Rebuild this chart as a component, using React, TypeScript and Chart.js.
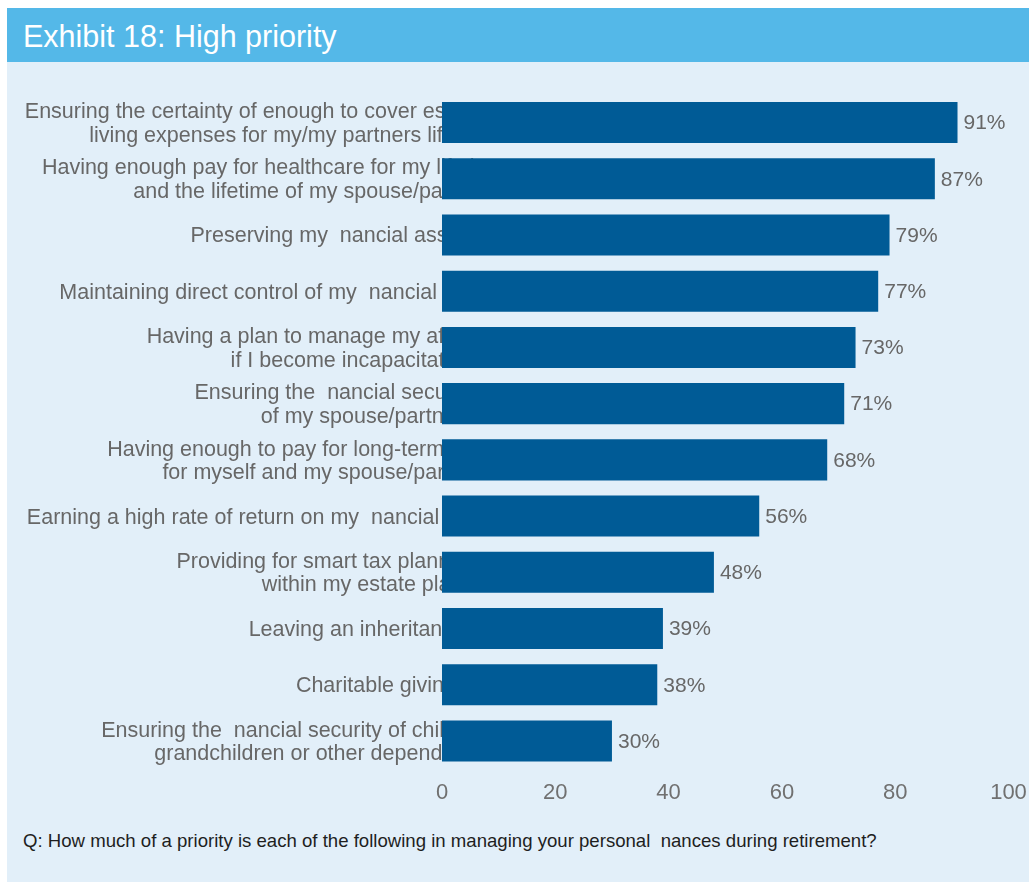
import React, { useEffect, useRef } from "react";
import { Chart, registerables } from "chart.js";

Chart.register(...registerables);

const FONT = "'Liberation Sans', Arial, Helvetica, sans-serif";

const titleText = "Exhibit 18: High priority";
const footerText =
  "Q: How much of a priority is each of the following in managing your personal  nances during retirement?";

const categories: string[][] = [
  ["Ensuring the certainty of enough to cover essential", "living expenses for my/my partners lifetime"],
  ["Having enough pay for healthcare for my lifetime", "and the lifetime of my spouse/partner"],
  ["Preserving my  nancial assets"],
  ["Maintaining direct control of my  nancial affairs"],
  ["Having a plan to manage my affairs", "if I become incapacitated"],
  ["Ensuring the  nancial security", "of my spouse/partner"],
  ["Having enough to pay for long-term care", "for myself and my spouse/partner"],
  ["Earning a high rate of return on my  nancial assets"],
  ["Providing for smart tax planning", "within my estate plan"],
  ["Leaving an inheritance"],
  ["Charitable giving"],
  ["Ensuring the  nancial security of children,", "grandchildren or other dependents"],
];

const values: number[] = [91, 87, 79, 77, 73, 71, 68, 56, 48, 39, 38, 30];

const xMin = 0;
const xMax = 100;
const xStep = 20;

export default function App() {
  const ref = useRef<HTMLCanvasElement | null>(null);

  useEffect(() => {
    if (!ref.current) return;

    const labelPlugin = {
      id: "catLabels",
      beforeDatasetsDraw(chart: any) {
        const { ctx, chartArea, scales } = chart;
        const yScale = scales.y;
        ctx.save();
        ctx.font = `21.5px ${FONT}`;
        ctx.fillStyle = "#676767";
        ctx.textBaseline = "middle";
        ctx.textAlign = "left";
        const anchor = chartArea.left - 11.6;
        const lh = 23.5;
        categories.forEach((lines, i) => {
          const cy = yScale.getPixelForValue(i) + 1.5;
          const y0 = cy - ((lines.length - 1) * lh) / 2;
          lines.forEach((line, j) => {
            const w = ctx.measureText(line).width;
            ctx.fillText(line, anchor - 0.84 * w, y0 + j * lh);
          });
        });
        ctx.restore();
      },
    };

    const valuePlugin = {
      id: "valLabels",
      afterDatasetsDraw(chart: any) {
        const { ctx } = chart;
        const meta = chart.getDatasetMeta(0);
        ctx.save();
        ctx.font = `21px ${FONT}`;
        ctx.fillStyle = "#676767";
        ctx.textBaseline = "middle";
        ctx.textAlign = "left";
        meta.data.forEach((bar: any, i: number) => {
          ctx.fillText(`${values[i]}%`, bar.x + 6, bar.y + 1);
        });
        ctx.restore();
      },
    };

    const chart = new Chart(ref.current, {
      type: "bar",
      data: {
        labels: categories.map((c) => c.join(" ")),
        datasets: [
          {
            data: values,
            backgroundColor: "#005B96",
            borderWidth: 0,
            barPercentage: 0.73,
            categoryPercentage: 1,
          },
        ],
      },
      options: {
        indexAxis: "y",
        responsive: false,
        animation: false,
        layout: { padding: { left: 435, right: 58.5, top: 32.4, bottom: 5.5 } },
        plugins: {
          legend: { display: false },
          tooltip: { enabled: false },
        },
        scales: {
          x: {
            min: xMin,
            max: xMax,
            grid: { display: false, drawTicks: false },
            border: { display: false },
            ticks: {
              stepSize: xStep,
              padding: 10.5,
              color: "#707070",
              font: { family: FONT, size: 22 },
            },
          },
          y: {
            display: false,
            grid: { display: false },
          },
        },
      },
      plugins: [labelPlugin, valuePlugin],
    } as any);

    return () => chart.destroy();
  }, []);

  return (
    <div
      style={{
        position: "absolute",
        left: 7,
        top: 8,
        width: 1022,
        height: 874,
        background: "#E2EFF9",
        overflow: "hidden",
        fontFamily: FONT,
      }}
    >
      <div
        style={{
          position: "absolute",
          left: 0,
          top: 0,
          width: 1022,
          height: 54,
          background: "#54B8E8",
          color: "#ffffff",
          fontSize: 30.5,
          lineHeight: "56px",
          paddingLeft: 16,
          boxSizing: "border-box",
          whiteSpace: "nowrap",
        }}
      >
        {titleText}
      </div>
      <canvas
        ref={ref}
        width={1060}
        height={760}
        style={{ position: "absolute", left: 0, top: 54, width: 1060, height: 760, display: "block" }}
      />
      <div
        style={{
          position: "absolute",
          left: 16,
          top: 822,
          fontSize: 18.6,
          lineHeight: "22px",
          color: "#1E1E1E",
          whiteSpace: "pre",
        }}
      >
        {footerText}
      </div>
    </div>
  );
}
